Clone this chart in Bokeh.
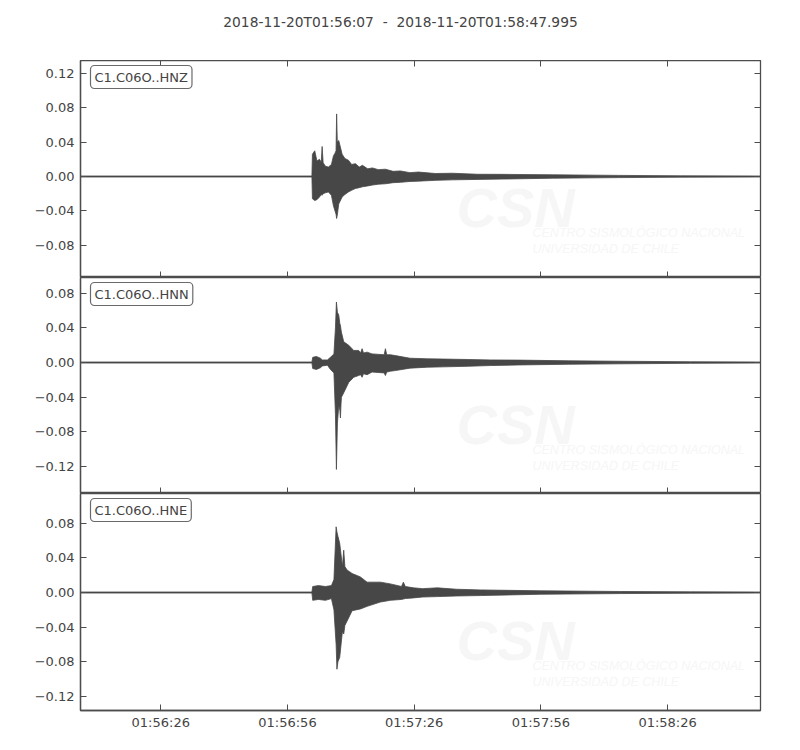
from bokeh.plotting import figure
from bokeh.layouts import column
from bokeh.models import (Range1d, FixedTicker, CustomJSTickFormatter, LinearAxis,
                          Label, ColumnDataSource)
from bokeh.embed import file_html
from bokeh.resources import INLINE

# ---------------- data ----------------
start_text = "2018-11-20T01:56:07"
end_text = "2018-11-20T01:58:47.995"
duration = 160.995  # seconds after 01:56:07

tick_times = [19, 49, 79, 109, 139]
tick_labels = ["01:56:26", "01:56:56", "01:57:26", "01:57:56", "01:58:26"]

channels = ["C1.C06O..HNZ", "C1.C06O..HNN", "C1.C06O..HNE"]

# envelope of each trace (seconds after start, upper / lower amplitude)
hnz_t = [0.0, 54.79, 54.91, 55.46, 55.98, 56.57, 57.00, 57.21, 57.45, 57.99, 58.70, 59.41,
         59.88, 60.24, 60.50, 60.64, 60.80, 61.14, 61.94, 62.6, 63.43, 64.2, 65.09, 66.0,
         66.75, 68.0, 69.11, 70.5, 72.19, 74.0, 75.74, 78.0, 80.00, 84.0, 88.05, 94.0,
         99.88, 111.72, 127.34, 142.01, 160.95]
hnz_hi = [0.0006, 0.0006, 0.026, 0.030, 0.018, 0.020, 0.017, 0.035, 0.016, 0.012, 0.011, 0.014,
          0.024, 0.027, 0.030, 0.073, 0.040, 0.042, 0.026, 0.021, 0.019, 0.014, 0.015, 0.011,
          0.013, 0.009, 0.010, 0.008, 0.0085, 0.006, 0.0065, 0.0045, 0.0052, 0.0035, 0.0038, 0.0026,
          0.0025, 0.0020, 0.0013, 0.0008, 0.0006]
hnz_lo = [-0.0006, -0.0006, -0.026, -0.028, -0.027, -0.024, -0.021, -0.022, -0.020, -0.019, -0.018, -0.022,
          -0.034, -0.040, -0.044, -0.049, -0.045, -0.032, -0.024, -0.021, -0.018, -0.016, -0.014, -0.013,
          -0.012, -0.011, -0.010, -0.009, -0.0085, -0.0072, -0.0068, -0.0058, -0.0054, -0.0045, -0.0039, -0.0034,
          -0.0030, -0.0020, -0.0013, -0.0008, -0.0006]

hnn_t = [0.0, 54.79, 54.98, 55.86, 56.80, 57.28, 58.46, 59.17, 60.00, 60.36, 60.59,
         60.83, 61.14, 61.40, 61.54, 61.68, 61.78, 62.32, 63.50, 64.69, 65.87, 66.30, 66.67, 67.00,
         67.86, 69.04, 71.90, 72.19, 72.50, 73.37, 74.56, 78.0, 82.13, 86.0, 91.83, 97.0,
         103.67, 115.50, 127.34, 144.38, 160.95]
hnn_hi = [0.0006, 0.0006, 0.006, 0.007, 0.005, 0.003, 0.003, 0.006, 0.010, 0.040, 0.070,
          0.058, 0.055, 0.045, 0.043, 0.038, 0.035, 0.024, 0.020, 0.014, 0.014, 0.011, 0.016, 0.011,
          0.012, 0.010, 0.009, 0.016, 0.009, 0.009, 0.008, 0.0050, 0.0043, 0.0040, 0.0035, 0.0030,
          0.0028, 0.0020, 0.0015, 0.0009, 0.0006]
hnn_lo = [-0.0006, -0.0006, -0.007, -0.008, -0.006, -0.004, -0.003, -0.008, -0.012, -0.060, -0.1236,
          -0.070, -0.050, -0.055, -0.064, -0.048, -0.040, -0.035, -0.023, -0.017, -0.015, -0.014, -0.017, -0.013,
          -0.014, -0.011, -0.012, -0.015, -0.011, -0.010, -0.0093, -0.0065, -0.0054, -0.0050, -0.0043, -0.0035,
          -0.0028, -0.0020, -0.0015, -0.0009, -0.0006]

hne_t = [0.0, 54.79, 54.98, 56.33, 57.99, 59.41, 60.00, 60.52, 60.71, 60.95, 61.37,
         62.01, 62.32, 62.60, 63.12, 64.31, 66.27, 67.86, 71.01, 73.37, 76.00, 76.45, 76.90,
         78.82, 81.0, 84.50, 89.0, 94.67, 108.88, 127.81, 144.38, 160.95]
hne_hi = [0.0006, 0.0006, 0.007, 0.008, 0.007, 0.008, 0.015, 0.076, 0.070, 0.065, 0.057,
          0.030, 0.049, 0.030, 0.026, 0.022, 0.018, 0.012, 0.012, 0.010, 0.007, 0.012, 0.007,
          0.0054, 0.0045, 0.0054, 0.0038, 0.0030, 0.0020, 0.0012, 0.0008, 0.0006]
hne_lo = [-0.0006, -0.0006, -0.009, -0.008, -0.009, -0.007, -0.020, -0.060, -0.0887, -0.080, -0.075,
          -0.045, -0.048, -0.038, -0.033, -0.021, -0.019, -0.016, -0.011, -0.009, -0.0080, -0.0075, -0.0070,
          -0.0062, -0.0052, -0.0047, -0.0040, -0.0035, -0.0020, -0.0012, -0.0008, -0.0006]

ylims = [(-0.1178, 0.1353), (-0.1514, 0.0983), (-0.1364, 0.1145)]
yticks = [[-0.08, -0.04, 0.0, 0.04, 0.08, 0.12],
          [-0.12, -0.08, -0.04, 0.0, 0.04, 0.08],
          [-0.12, -0.08, -0.04, 0.0, 0.04, 0.08]]

traces = [(hnz_t, hnz_hi, hnz_lo), (hnn_t, hnn_hi, hnn_lo), (hne_t, hne_hi, hne_lo)]

# ---------------- style ----------------
FONT = "DejaVu Sans"
WAVE = "#474747"
FRAME = "#4d4d4d"
TXT = "#444444"
WM = "#f6f6f6"
frame_h = [217, 216, 217]
FRAME_W = 680
LEFT, RIGHT = 80, 30
TOTAL_W = LEFT + FRAME_W + RIGHT
TITLE_H = 60
NB = "\u00a0"
title_text = start_text + NB + NB + "-" + NB + NB + end_text

yfmt_code = "return (tick < -1e-9 ? '\u2212' : '') + Math.abs(tick).toFixed(2);"

# title strip (its frame is aligned with the panels' frames by the column layout)
tp = figure(width=TOTAL_W, height=TITLE_H, x_range=Range1d(0, 1), y_range=Range1d(0, 1),
            output_backend="svg", toolbar_location=None, tools="",
            x_axis_location=None, y_axis_location=None, min_border=0)
tp.grid.visible = False
tp.outline_line_color = None
tp.add_layout(Label(x=320, y=TITLE_H - 21, x_units="screen", y_units="screen",
                    text=title_text, text_font=FONT, text_font_size="13.8px",
                    text_color=TXT, text_align="center", text_baseline="middle"))

x_range = Range1d(0, duration)
panels = [tp]
for i in range(3):
    first, last = i == 0, i == 2
    bottom = 32 if last else 0
    p = figure(width=TOTAL_W, height=frame_h[i] + bottom,
               x_range=x_range, y_range=Range1d(*ylims[i]),
               output_backend="svg", toolbar_location=None, tools="",
               min_border_left=LEFT, min_border_right=RIGHT,
               min_border_top=0, min_border_bottom=bottom)
    p.grid.visible = False
    p.outline_line_color = FRAME
    p.outline_line_width = 1.3
    p.background_fill_color = "white"
    p.border_fill_color = "white"

    # left y axis
    ya = p.yaxis[0]
    ya.ticker = FixedTicker(ticks=yticks[i])
    ya.formatter = CustomJSTickFormatter(code=yfmt_code)
    ya.major_tick_in = 6
    ya.major_tick_out = 0
    ya.minor_tick_line_color = None
    ya.axis_line_color = FRAME
    ya.axis_line_width = 1.3
    ya.major_tick_line_color = FRAME
    ya.major_label_text_font = FONT
    ya.major_label_text_font_size = "13px"
    ya.major_label_text_color = TXT
    ya.major_label_standoff = 6

    # bottom x axis
    xa = p.xaxis[0]
    xa.ticker = FixedTicker(ticks=tick_times)
    xa.major_label_overrides = dict(zip(tick_times, tick_labels))
    xa.major_tick_in = 6
    xa.major_tick_out = 0
    xa.minor_tick_line_color = None
    xa.axis_line_color = FRAME
    xa.axis_line_width = 1.3
    xa.major_tick_line_color = FRAME
    xa.major_label_text_font = FONT
    xa.major_label_text_font_size = "13px"
    xa.major_label_text_color = TXT
    xa.major_label_standoff = 4
    if not last:
        xa.major_label_text_font_size = "0px"
        xa.major_label_text_color = None
        xa.major_label_standoff = 0

    # mirrored ticks (right, and top of first panel)
    ra = LinearAxis(ticker=FixedTicker(ticks=yticks[i]), major_tick_in=6, major_tick_out=0,
                    minor_tick_line_color=None, axis_line_color=None,
                    major_tick_line_color=FRAME, major_label_text_font_size="0px",
                    major_label_text_color=None, major_label_standoff=0)
    p.add_layout(ra, "right")
    if first:
        ta = LinearAxis(ticker=FixedTicker(ticks=tick_times), major_tick_in=6, major_tick_out=0,
                        minor_tick_line_color=None, axis_line_color=None,
                        major_tick_line_color=FRAME, major_label_text_font_size="0px",
                        major_label_text_color=None, major_label_standoff=0)
        p.add_layout(ta, "above")

    # faint watermark
    fh = frame_h[i]
    p.add_layout(Label(x=376, y=fh - 147, x_units="screen", y_units="screen", text="CSN",
                       text_font="Liberation Sans", text_font_style="bold italic",
                       text_font_size="56px", text_color=WM, text_baseline="alphabetic"))
    p.add_layout(Label(x=452, y=fh - 172, x_units="screen", y_units="screen",
                       text="CENTRO SISMOLÓGICO NACIONAL",
                       text_font="Liberation Sans", text_font_style="italic",
                       text_font_size="12.5px", text_color=WM, text_baseline="alphabetic"))
    p.add_layout(Label(x=452, y=fh - 188, x_units="screen", y_units="screen",
                       text="UNIVERSIDAD DE CHILE",
                       text_font="Liberation Sans", text_font_style="italic",
                       text_font_size="12.5px", text_color=WM, text_baseline="alphabetic"))

    # waveform envelope
    t, hi, lo = traces[i]
    src = ColumnDataSource(dict(t=t, hi=hi, lo=lo))
    p.varea(x="t", y1="lo", y2="hi", source=src, fill_color=WAVE)
    p.line(x="t", y="hi", source=src, line_color=WAVE, line_width=0.8)
    p.line(x="t", y="lo", source=src, line_color=WAVE, line_width=0.8)

    # channel label
    p.add_layout(Label(x=10, y=fh - 5, x_units="screen", y_units="screen", text=channels[i],
                       text_font=FONT, text_font_size="13px", text_color=TXT,
                       text_align="left", text_baseline="top",
                       background_fill_color="white", border_line_color="#6a6a6a",
                       border_line_width=1.2, border_radius=4, padding=4))
    panels.append(p)

layout = column(*panels, spacing=0)
open("out.html", "w", encoding="utf-8").write(file_html(layout, INLINE))
